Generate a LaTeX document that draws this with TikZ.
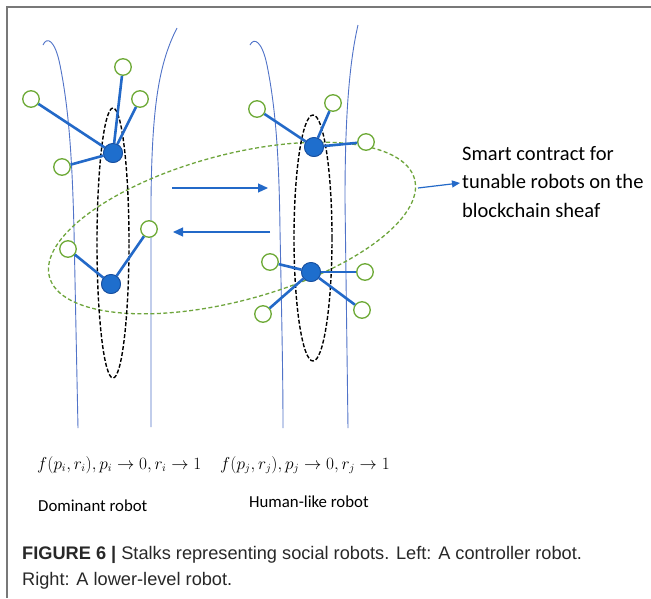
\documentclass[tikz,border=0pt]{standalone}
\usepackage{fontspec}
\newfontfamily\calfont{Carlito}
\newfontfamily\capfont{Liberation Sans}
\usetikzlibrary{arrows.meta}
\definecolor{stalk}{RGB}{80,115,200}
\definecolor{nodeblue}{RGB}{30,110,205}
\definecolor{nodeedge}{RGB}{25,80,160}
\definecolor{edgeblue}{RGB}{35,105,200}
\definecolor{gcirc}{RGB}{110,170,55}
\definecolor{gdash}{RGB}{110,165,60}
\definecolor{framegray}{RGB}{120,120,120}
\definecolor{captxt}{RGB}{40,40,40}
\begin{document}
\begin{tikzpicture}[x=1pt,y=-1pt,
  stalkline/.style={draw=stalk,line width=0.9pt},
  robot/.style={circle,fill=nodeblue,draw=nodeedge,line width=0.8pt,minimum size=19pt,inner sep=0pt},
  sensor/.style={circle,fill=white,draw=gcirc,line width=1.3pt,minimum size=16.5pt,inner sep=0pt},
  link/.style={draw=edgeblue,line width=2.6pt},
  fiber/.style={draw=black,line width=1.4pt,dash pattern=on 4pt off 2pt},
  contract/.style={draw=gdash,line width=1.3pt,dash pattern=on 4pt off 2.5pt},
  flow/.style={draw=edgeblue,line width=1.2pt,-{Triangle[length=10pt,width=9pt]}},
  pointer/.style={draw=edgeblue,line width=1.2pt,-{Triangle[length=8pt,width=7pt]}},
  txt/.style={inner sep=0pt,anchor=west},
]
\useasboundingbox (0,0) rectangle (651,598);
\fill[white] (0,0) rectangle (651,598);
% frame
\draw[framegray,line width=1.6pt] (651,7) -- (7,7) -- (7,598);

% stalks
\draw[stalkline] (43,45) .. controls (47,36) and (55,40) .. (60,65)
  .. controls (68,105) and (72,150) .. (74,230)
  .. controls (76,330) and (77,380) .. (78,428);
\draw[stalkline] (177,28) .. controls (158,65) and (152,110) .. (151,200) -- (151,427);
\draw[stalkline] (250,45) .. controls (254,37) and (262,41) .. (267,65)
  .. controls (275,105) and (279,150) .. (280,230)
  .. controls (282,330) and (283,380) .. (283,428);
\draw[stalkline] (358,25) .. controls (350,60) and (345,110) .. (345,200) -- (348,428);

% smart contract ellipse
\draw[contract,rotate around={15:(232,228)}] (232,228) ellipse [x radius=189pt, y radius=73pt];

% fibers
\draw[fiber] (113,243) ellipse [x radius=16pt, y radius=135pt];
\draw[fiber] (313,238) ellipse [x radius=19pt, y radius=123pt];

% robots
\node[robot] (L1) at (113,153) {};
\node[robot] (L2) at (111,284) {};
\node[robot] (R1) at (314,147) {};
\node[robot] (R2) at (311,272) {};

% sensors
\node[sensor] (a1) at (31,99) {};
\node[sensor] (a2) at (123,67) {};
\node[sensor] (a3) at (140,99) {};
\node[sensor] (a4) at (62,167) {};
\node[sensor] (b1) at (68,249) {};
\node[sensor] (b2) at (149,229) {};
\node[sensor] (c1) at (257,109) {};
\node[sensor] (c2) at (333,103) {};
\node[sensor] (c3) at (366,142) {};
\node[sensor] (d1) at (270,262) {};
\node[sensor] (d2) at (263,314) {};
\node[sensor] (d3) at (365,272) {};
\node[sensor] (d4) at (362,310) {};

\foreach \s in {a1,a2,a3,a4} \draw[link] (L1) -- (\s);
\foreach \s in {b1,b2} \draw[link] (L2) -- (\s);
\foreach \s in {c1,c2,c3} \draw[link] (R1) -- (\s);
\foreach \s in {d1,d2,d3,d4} \draw[link] (R2) -- (\s);

% redraw robots on top of links
\foreach \r in {L1,L2,R1,R2}
  \fill[nodeblue,draw=nodeedge,line width=0.8pt] (\r.center) circle (9.5pt);

% arrows between stalks
\coordinate (f1s) at (172,188);
\coordinate (f1e) at (268,188);
\coordinate (f2s) at (270,232);
\coordinate (f2e) at (173,232);
\draw[flow] (f1s) -- (f1e);
\draw[flow] (f2s) -- (f2e);

% label
\node[txt,align=left,font=\calfont\fontsize{20.5}{28.5}\selectfont] (lbl) at (462,182)
  {Smart contract for\\tunable robots on the\\blockchain sheaf};
\coordinate (ptail) at (418,188);
\draw[pointer] (ptail) -- ([xshift=-2pt,yshift=-1pt]lbl.west);

% formulas
\node[txt,font=\fontsize{16.1}{18}\selectfont] (fi) at (37,465) {$f(p_i,r_i), p_i \rightarrow 0, r_i \rightarrow 1$};
\node[txt,font=\fontsize{16.1}{18}\selectfont] (fj) at (220,465) {$f(p_j,r_j), p_j \rightarrow 0, r_j \rightarrow 1$};
\node[txt,font=\calfont\fontsize{16.8}{18}\selectfont] (dom) at (38,506) {Dominant robot};
\node[txt,font=\calfont\fontsize{16.8}{18}\selectfont] (hum) at (249,502) {Human-like robot};

% caption
\node[txt,text=captxt,font=\capfont\fontsize{18.2}{22}\selectfont] (cap1) at (22,555)
  {\textbf{FIGURE 6 |} Stalks representing social robots. Left: A controller robot.};
\node[txt,text=captxt,font=\capfont\fontsize{18.2}{22}\selectfont] (cap2) at (22,581)
  {Right: A lower-level robot.};
\end{tikzpicture}
\end{document}
